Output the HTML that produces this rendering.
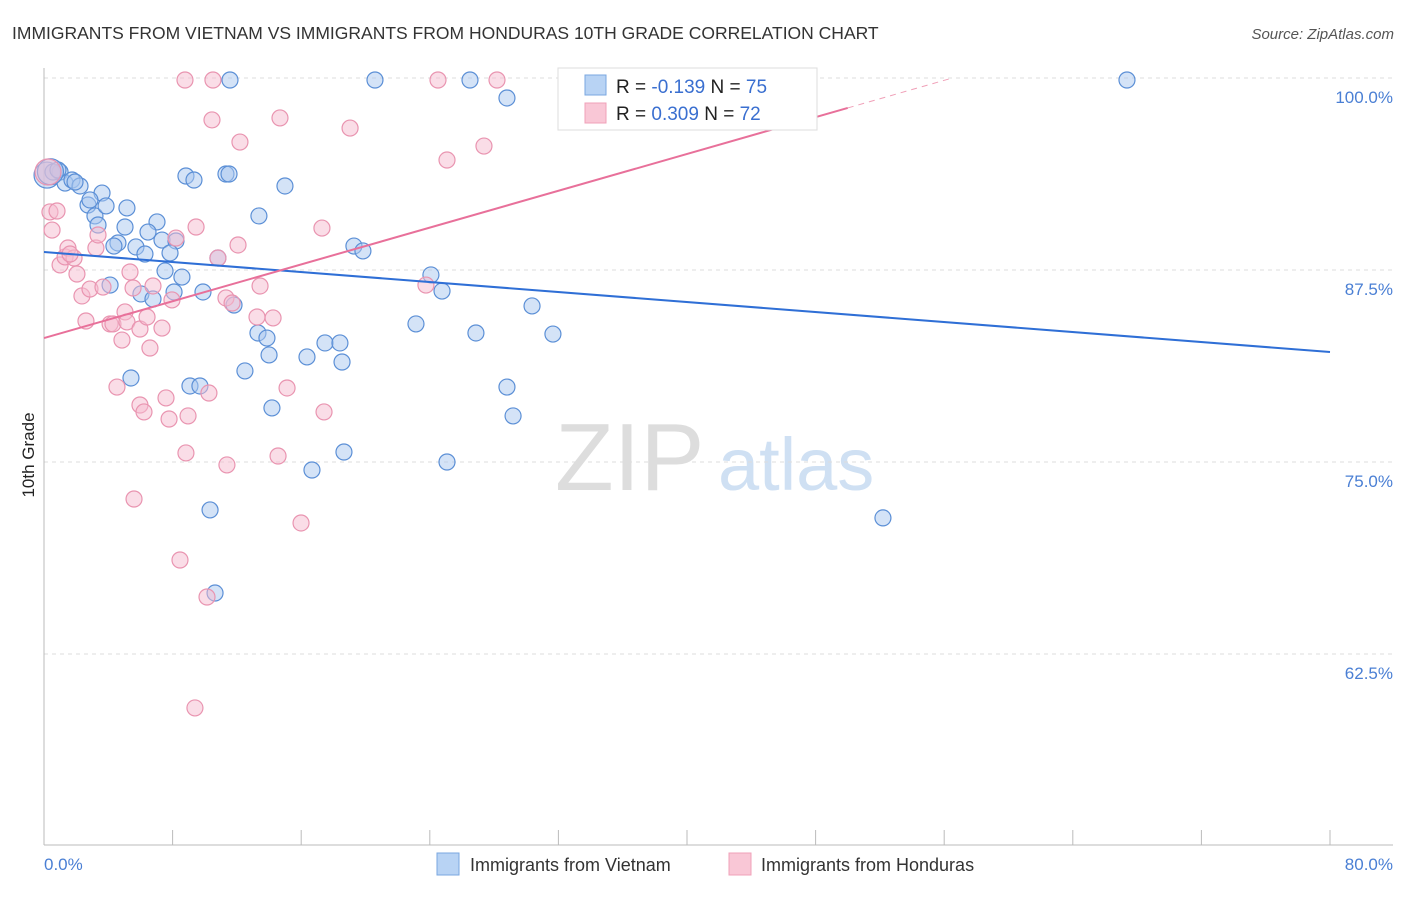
<!DOCTYPE html>
<html><head><meta charset="utf-8"><style>
body{margin:0;background:#fff;font-family:"Liberation Sans",sans-serif;}
svg text{font-family:"Liberation Sans",sans-serif;}
</style></head><body>
<svg id="chart" width="1406" height="892" xmlns="http://www.w3.org/2000/svg">
<text x="12" y="39" font-size="17.5" fill="#333">IMMIGRANTS FROM VIETNAM VS IMMIGRANTS FROM HONDURAS 10TH GRADE CORRELATION CHART</text>
<text x="1394" y="39" font-size="15" font-style="italic" fill="#555" text-anchor="end">Source: ZipAtlas.com</text>
<text transform="translate(34,455) rotate(-90)" font-size="17" fill="#222" text-anchor="middle">10th Grade</text>
<g>
<text x="555" y="490" font-size="96" font-family="Liberation Serif" fill="#ddd">ZIP</text>
<text x="718" y="490" font-size="74" fill="#cfe0f3">atlas</text>
</g>
<g id="grid"></g>
<g id="axes"></g>
<g id="marks"></g>
<g>
<rect x="558" y="68" width="259" height="62" fill="#fff" stroke="#ddd"/>
<rect x="585" y="75" width="21" height="20" fill="#b8d3f4" stroke="#7aa7e0"/>
<rect x="585" y="103" width="21" height="20" fill="#f9c7d6" stroke="#f0a0b8"/>
<text x="616" y="93" font-size="19" fill="#222">R = <tspan fill="#3a6fd0">-0.139</tspan>   N = <tspan fill="#3a6fd0">75</tspan></text>
<text x="616" y="120" font-size="19" fill="#222">R =  <tspan fill="#3a6fd0">0.309</tspan>   N = <tspan fill="#3a6fd0">72</tspan></text>
</g>
<g>
<rect x="437" y="853" width="22" height="22" fill="#b8d3f4" stroke="#7aa7e0"/>
<text x="470" y="871" font-size="18" fill="#333">Immigrants from Vietnam</text>
<rect x="729" y="853" width="22" height="22" fill="#f9c7d6" stroke="#f0a0b8"/>
<text x="761" y="871" font-size="18" fill="#333">Immigrants from Honduras</text>
</g>
</svg>
<script>
const viet_x=[0.19,1.0,0.56,1.31,1.74,2.24,1.93,2.74,3.61,3.17,3.86,3.36,2.86,5.16,5.04,4.60,4.35,5.72,6.28,7.03,7.34,6.47,8.21,7.84,8.58,7.53,4.11,6.03,6.78,8.09,9.89,8.83,9.33,11.32,11.51,10.82,11.82,13.37,14.99,13.31,13.87,14.00,12.50,14.18,16.36,17.48,18.41,18.54,9.08,9.70,5.41,16.67,18.66,19.28,19.84,23.14,24.07,24.76,26.87,30.36,31.66,28.80,29.18,25.07,10.33,10.64,11.57,20.59,26.50,28.80,43.30,67.37,52.19,0.87,0.4];
const viet_y=[93.68,93.88,93.88,93.16,93.36,92.97,93.23,91.73,92.51,91.02,91.67,90.43,92.06,91.54,90.30,89.26,89.06,89.00,88.54,90.63,89.45,89.97,89.39,88.61,87.04,87.44,86.52,85.94,85.61,86.07,86.07,93.62,93.36,93.75,93.75,88.28,85.22,91.02,92.97,83.40,83.07,81.97,80.93,78.52,81.84,82.75,82.75,81.51,79.95,79.95,80.47,74.48,75.65,89.06,88.74,83.99,87.18,86.13,83.40,85.16,83.33,79.88,78.00,75.00,71.88,66.47,99.87,99.87,99.87,98.70,99.87,99.87,71.36,94.01,93.9];
const hond_x=[0.37,0.81,0.50,1.00,1.31,1.49,1.87,2.05,2.36,2.61,2.86,3.23,3.36,3.67,4.11,4.29,4.54,4.85,5.04,5.16,5.35,5.54,5.97,5.97,6.22,6.41,6.59,6.78,7.34,7.59,7.78,7.96,8.21,8.46,8.83,8.96,9.46,9.39,10.14,10.26,10.45,10.82,11.32,11.38,11.70,12.07,12.19,13.25,13.44,14.25,14.56,14.68,15.12,15.99,17.29,17.42,19.04,23.76,25.07,27.37,8.77,10.51,24.51,28.18,41.62,5.60,0.25,1.62];
const hond_y=[91.28,91.34,90.10,87.83,88.35,88.93,88.28,87.24,85.81,84.18,86.26,88.93,89.78,86.39,83.99,83.99,79.88,82.94,84.77,84.12,87.37,86.33,78.71,83.66,78.26,84.44,82.42,86.46,83.72,79.17,77.80,85.55,89.58,68.62,75.59,78.00,90.30,58.99,66.21,79.49,97.27,88.28,85.68,74.81,85.35,89.13,95.83,84.44,86.46,84.38,75.39,97.40,79.82,71.03,90.23,78.26,96.74,86.52,94.66,95.57,99.87,99.87,99.87,99.87,99.87,72.59,93.88,88.54];
const viet_trend=[88.67,82.16];
const hond_trend=[83.07,98.05];
const hond_trend_xend=50.0;
const y_ticks=[100,87.5,75,62.5];
const y_tick_labels=["100.0%","87.5%","75.0%","62.5%"];
const x_ticks=[0,8,16,24,32,40,48,56,64,72,80];
const NS="http://www.w3.org/2000/svg";
function sx(v){return 44+v/80*1286;}
function sy(v){return 78+(100-v)/12.5*192;}
function mk(tag,attrs,parent){const e=document.createElementNS(NS,tag);for(const k in attrs)e.setAttribute(k,attrs[k]);document.getElementById(parent).appendChild(e);return e;}
y_ticks.forEach((t,i)=>{
  const g=mk('line',{x1:44,x2:1393,y1:sy(t),y2:sy(t),stroke:'#ddd','stroke-dasharray':'4,4'},'grid');
  
  
  const l=mk('text',{x:1393,y:sy(t)+25,'font-size':17,fill:'#4a7fd4','text-anchor':'end'},'grid');
  l.textContent=y_tick_labels[i];
  
  
});
const ax=mk('line',{x1:44,x2:1393,y1:845,y2:845,stroke:'#bbb'},'axes');


const ay=mk('line',{x1:44,x2:44,y1:68,y2:845,stroke:'#bbb'},'axes');


x_ticks.forEach(t=>{
  const k=mk('line',{x1:sx(t),x2:sx(t),y1:830,y2:845,stroke:'#bbb'},'axes');
  
  
});
const x0=mk('text',{x:44,y:870,'font-size':17,fill:'#4a7fd4'},'axes');x0.textContent='0.0%';


const x1=mk('text',{x:1393,y:870,'font-size':17,fill:'#4a7fd4','text-anchor':'end'},'axes');x1.textContent='80.0%';


function dots(xs,ys,fill,stroke,name){
  xs.forEach((v,i)=>{
    const big=(v<0.5&&ys[i]>93.5);
    const c=mk('circle',{cx:sx(v),cy:sy(ys[i]),r:big?13:8,fill:fill,'fill-opacity':0.5,stroke:stroke,'stroke-width':1.2},'marks');
    
    
  });
}
dots(viet_x,viet_y,'#a9c8f0','#5b8fd6','vietnam-point');
dots(hond_x,hond_y,'#f6bcd0','#e994b0','honduras-point');
const tb=mk('line',{x1:sx(0),y1:sy(viet_trend[0]),x2:sx(80),y2:sy(viet_trend[1]),stroke:'#2f6fd6','stroke-width':2},'marks');


const tp=mk('line',{x1:sx(0),y1:sy(hond_trend[0]),x2:sx(hond_trend_xend),y2:sy(hond_trend[1]),stroke:'#e8709a','stroke-width':2},'marks');


const slope=(hond_trend[1]-hond_trend[0])/hond_trend_xend;
const xe=(100-hond_trend[0])/slope;
const td=mk('line',{x1:sx(hond_trend_xend),y1:sy(hond_trend[1]),x2:sx(xe),y2:sy(100),stroke:'#f0a0b8','stroke-width':1,'stroke-dasharray':'6,5'},'marks');


</script>
</body></html>
